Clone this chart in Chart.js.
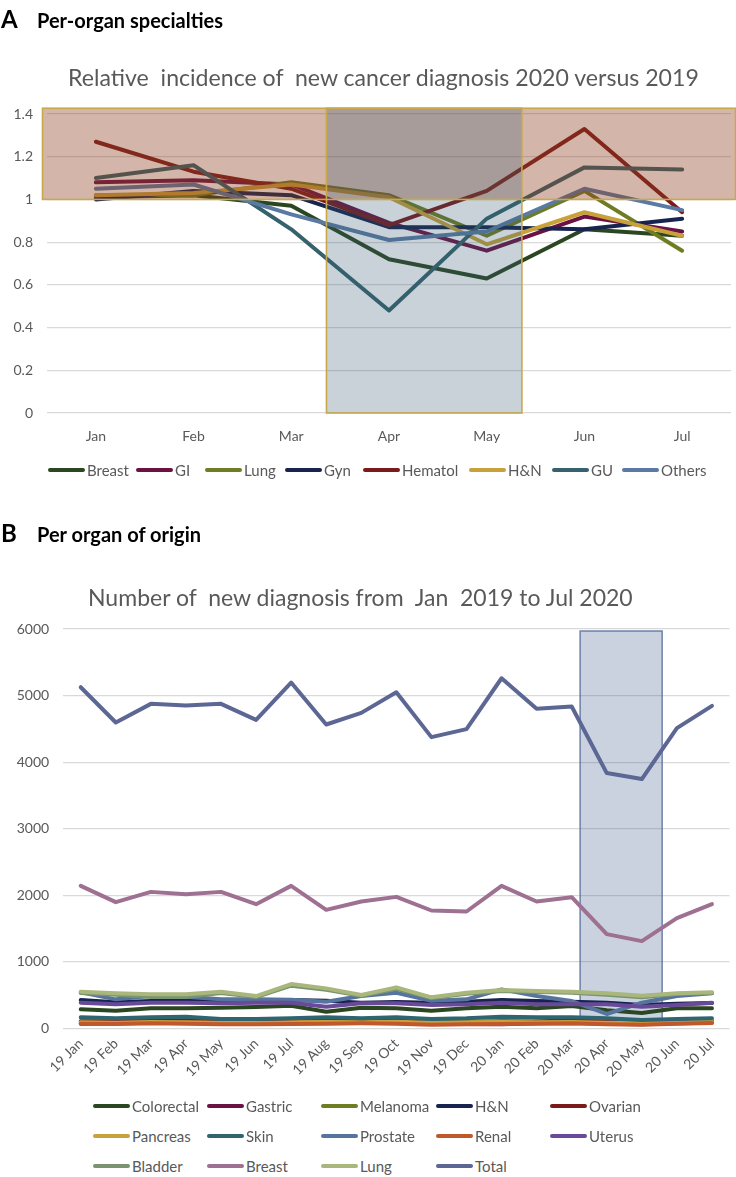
<!DOCTYPE html>
<html><head><meta charset="utf-8">
<script src="https://cdn.jsdelivr.net/npm/chart.js@4.4.0/dist/chart.umd.min.js"></script>
<style>
html,body{margin:0;padding:0;background:#fff;}
body{width:736px;height:1177px;position:relative;overflow:hidden;font-family:Lato,"Open Sans",sans-serif;}
.abs{position:absolute;white-space:pre;z-index:2;line-height:1;}
.hdr{font-weight:700;color:#000;font-size:20px;}
.hdr .let{font-size:24px;display:inline-block;width:36px;}
.ttl{color:#595959;font-size:21px;}
.leg{position:absolute;display:flex;align-items:center;font-size:15px;color:#595959;height:18px;white-space:nowrap;z-index:2;}
.leg i{display:inline-block;width:37px;height:4.5px;border-radius:2.5px;margin-right:2px;}
canvas{position:absolute;left:0;z-index:1;}
</style></head>
<body>
<div class="abs hdr" id="hA" style="left:1px;top:7px;"><span class="let">A</span>Per-organ specialties</div>
<div class="abs ttl" id="tA" style="left:68px;top:66px;">Relative  incidence of  new cancer diagnosis 2020 versus 2019</div>
<canvas id="cA" width="736" height="450" style="top:0"></canvas>
<div id="legA"></div>
<div class="abs hdr" id="hB" style="left:1px;top:521px;"><span class="let">B</span>Per organ of origin</div>
<div class="abs ttl" id="tB" style="left:88px;top:586px;">Number of  new diagnosis from  Jan  2019 to Jul 2020</div>
<canvas id="cB" width="736" height="560" style="top:540px"></canvas>
<div id="legB"></div>
<script>
// ---------- Chart A data ----------
const monthsA = ['Jan','Feb','Mar','Apr','May','Jun','Jul'];
const yTicksA = [0, 0.2, 0.4, 0.6, 0.8, 1, 1.2, 1.4];
const yTickLabelsA = ['0','0.2','0.4','0.6','0.8','1','1.2','1.4'];
const namesA = ['Breast','GI','Lung','Gyn','Hematol','H&N','GU','Others'];
const breastA  = [1.01, 1.02, 0.97, 0.72, 0.63, 0.86, 0.83];
const giA      = [1.08, 1.09, 1.07, 0.89, 0.76, 0.92, 0.85];
const lungA    = [1.02, 1.02, 1.08, 1.02, 0.83, 1.04, 0.76];
const gynA     = [1.00, 1.04, 1.02, 0.87, 0.87, 0.86, 0.91];
const hematolA = [1.27, 1.13, 1.05, 0.88, 1.04, 1.33, 0.94];
const hnA      = [1.02, 1.03, 1.07, 1.01, 0.79, 0.94, 0.83];
const guA      = [1.10, 1.16, 0.86, 0.48, 0.91, 1.15, 1.14];
const othersA  = [1.05, 1.07, 0.93, 0.81, 0.85, 1.05, 0.95];
const bandAbove = [1.0, 1.427];      // value range of the shaded "above 2019" band
const bandLockdownA = [0, 1.427];    // value range of the lockdown window

// ---------- Chart B data ----------
const monthsB = ['19 Jan','19 Feb','19 Mar','19 Apr','19 May','19 Jun','19 Jul','19 Aug','19 Sep','19 Oct','19 Nov','19 Dec','20 Jan','20 Feb','20 Mar','20 Apr','20 May','20 Jun','20 Jul'];
const yTicksB = [0, 1000, 2000, 3000, 4000, 5000, 6000];
const yTickLabelsB = ['0','1000','2000','3000','4000','5000','6000'];
const namesB = ['Colorectal','Gastric','Melanoma','H&N','Ovarian','Pancreas','Skin','Prostate','Renal','Uterus','Bladder','Breast','Lung','Total'];
const colorectalB = [285, 265, 300, 300, 310, 320, 340, 250, 310, 300, 265, 300, 325, 300, 335, 270, 230, 300, 300];
const gastricB    = [70, 75, 80, 85, 70, 75, 80, 80, 85, 90, 70, 65, 60, 75, 80, 70, 60, 75, 85];
const melanomaB   = [110, 105, 115, 120, 100, 95, 100, 105, 100, 115, 95, 100, 110, 105, 100, 95, 80, 95, 105];
const hnB         = [425, 390, 410, 410, 425, 420, 425, 415, 385, 395, 385, 400, 425, 410, 400, 385, 350, 370, 380];
const ovarianB    = [100, 100, 110, 120, 110, 120, 140, 150, 140, 120, 70, 80, 70, 100, 130, 140, 90, 100, 110];
const pancreasB   = [90, 85, 95, 90, 85, 80, 90, 95, 90, 100, 85, 90, 95, 90, 95, 85, 80, 90, 100];
const skinB       = [165, 150, 165, 175, 140, 140, 150, 165, 150, 165, 140, 150, 175, 165, 165, 150, 125, 140, 150];
const prostateB   = [540, 435, 485, 475, 435, 435, 430, 400, 485, 535, 415, 435, 585, 485, 410, 215, 385, 485, 525];
const renalB      = [70, 65, 75, 70, 60, 60, 65, 70, 75, 70, 55, 60, 65, 70, 75, 60, 55, 70, 80];
const uterusB     = [385, 360, 385, 385, 375, 385, 385, 325, 375, 375, 350, 360, 385, 360, 360, 360, 325, 350, 385];
const bladderB    = [530, 505, 470, 470, 530, 470, 640, 580, 490, 595, 455, 520, 560, 545, 535, 505, 465, 515, 530];
const breastB     = [2140, 1895, 2050, 2015, 2050, 1865, 2140, 1780, 1905, 1975, 1770, 1755, 2140, 1905, 1970, 1415, 1310, 1655, 1865];
const lungB       = [550, 525, 510, 510, 550, 485, 665, 600, 500, 615, 465, 535, 575, 560, 550, 525, 490, 525, 540];
const totalB      = [5125, 4595, 4875, 4850, 4875, 4635, 5195, 4565, 4740, 5050, 4375, 4495, 5260, 4800, 4835, 3835, 3745, 4510, 4845];
const bandLockdownB = [110, 5970];

// ---------- styles ----------
const colorsA = ['#2b4721','#6b1245','#6f7c24','#16244f','#7b1a1a','#c8a13a','#35626d','#5a7aa3'];
const colorsB = ['#2b4721','#6b1245','#6f7c24','#16244f','#7b1a1a','#c8a13a','#2f6570','#56749e','#c0582c','#694a99','#7a9472','#9e7092','#a9b67c','#5c6794'];
const valuesA = [breastA, giA, lungA, gynA, hematolA, hnA, guA, othersA];
const valuesB = [colorectalB, gastricB, melanomaB, hnB, ovarianB, pancreasB, skinB, prostateB, renalB, uterusB, bladderB, breastB, lungB, totalB];
const layoutA = { winFrom: 2.36, winTo: 4.36, legendLeft: [48,136,205,285,363,469,552,622], legendTop: 461 };
const layoutB = { winFrom: 14.24, winTo: 16.58, legendCols: [93,207,321,436,550], legendRows: [1097,1127,1157] };

const tickFont = {family:'Lato', size:14};
const tickColor = '#595959';

function makeDatasets(names, vals, cols){
  const n = names.length;
  return names.map((nm,i)=>({label:nm, data:vals[i], borderColor:cols[i], backgroundColor:cols[i],
    borderWidth:4, pointRadius:0, pointHoverRadius:0, tension:0, fill:false, order:n-i,
    borderCapStyle:'round', borderJoinStyle:'round'}));
}

const shadeA = {id:'shadeA', afterDatasetsDraw(chart){
  const {ctx, chartArea:ca, scales:{x,y}} = chart;
  ctx.save();
  const yT = y.getPixelForValue(bandAbove[1]), yB = y.getPixelForValue(bandAbove[0]);
  const xl = ca.left - 4.5, xr = ca.right + 4.5;
  ctx.fillStyle = 'rgba(140,60,30,0.38)';
  ctx.fillRect(xl, yT, xr-xl, yB-yT);
  const wx1 = x.getPixelForValue(layoutA.winFrom), wx2 = x.getPixelForValue(layoutA.winTo);
  const wyT = y.getPixelForValue(bandLockdownA[1]), wyB = y.getPixelForValue(bandLockdownA[0]);
  ctx.fillStyle = 'rgba(50,90,110,0.27)';
  ctx.fillRect(wx1, wyT, wx2-wx1, wyB-wyT);
  ctx.strokeStyle = '#c9a84b'; ctx.lineWidth = 1.6;
  ctx.strokeRect(xl, yT, xr-xl, yB-yT);
  ctx.strokeRect(wx1, wyT, wx2-wx1, wyB-wyT);
  ctx.restore();
}};
const shadeB = {id:'shadeB', beforeDatasetsDraw(chart){
  const {ctx, scales:{x,y}} = chart;
  ctx.save();
  const x1 = x.getPixelForValue(layoutB.winFrom), x2 = x.getPixelForValue(layoutB.winTo);
  const yT = y.getPixelForValue(bandLockdownB[1]), yB = y.getPixelForValue(bandLockdownB[0]);
  ctx.fillStyle = 'rgba(60,90,140,0.27)';
  ctx.fillRect(x1, yT, x2-x1, yB-yT);
  ctx.strokeStyle = 'rgba(80,105,150,0.8)'; ctx.lineWidth = 1.5;
  ctx.strokeRect(x1, yT, x2-x1, yB-yT);
  ctx.restore();
}};

new Chart(document.getElementById('cA'), {
  type:'line',
  data:{labels:monthsA, datasets:makeDatasets(namesA, valuesA, colorsA)},
  options:{
    responsive:false, animation:false, events:[],
    layout:{padding:{top:114, right:5, left:0, bottom:0}},
    plugins:{legend:{display:false}, tooltip:{enabled:false}, title:{display:false}},
    scales:{
      x:{offset:true, grid:{display:false, drawTicks:false, offset:true}, border:{display:false},
         ticks:{color:tickColor, font:tickFont, padding:15, maxRotation:0},
         afterFit:s=>{s.height=37;}},
      y:{min:0, max:1.4,
         afterBuildTicks:s=>{s.ticks = yTicksA.map(v=>({value:v}));},
         grid:{color:'#d9d9d9', lineWidth:1.2, drawTicks:false}, border:{display:false},
         ticks:{color:tickColor, font:tickFont, padding:14, callback:(v,i)=>yTickLabelsA[i]},
         afterFit:s=>{s.width=47;}}
    }
  },
  plugins:[shadeA]
});

new Chart(document.getElementById('cB'), {
  type:'line',
  data:{labels:monthsB, datasets:makeDatasets(namesB, valuesB, colorsB)},
  options:{
    responsive:false, animation:false, events:[],
    layout:{padding:{top:89, right:6.5, left:0, bottom:0}},
    plugins:{legend:{display:false}, tooltip:{enabled:false}, title:{display:false}},
    scales:{
      x:{offset:true, grid:{display:false, drawTicks:false, offset:true}, border:{display:false},
         ticks:{color:tickColor, font:tickFont, padding:7, minRotation:45, maxRotation:45, autoSkip:false},
         afterFit:s=>{s.height=71.7;}},
      y:{min:0, max:6000,
         afterBuildTicks:s=>{s.ticks = yTicksB.map(v=>({value:v}));},
         grid:{color:'#d9d9d9', lineWidth:1.2, drawTicks:false}, border:{display:false},
         ticks:{color:tickColor, font:tickFont, padding:14, callback:(v,i)=>yTickLabelsB[i]},
         afterFit:s=>{s.width=63.2;}}
    }
  },
  plugins:[shadeB]
});

// ---------- legends (HTML) ----------
function legendItem(name, color, left, top){
  const d = document.createElement('div');
  d.className = 'leg';
  d.style.left = left+'px'; d.style.top = top+'px';
  const i = document.createElement('i'); i.style.background = color;
  d.appendChild(i);
  d.appendChild(document.createTextNode(name));
  document.body.appendChild(d);
}
namesA.forEach((n,i)=>legendItem(n, colorsA[i], layoutA.legendLeft[i], layoutA.legendTop));
namesB.forEach((n,i)=>legendItem(n, colorsB[i], layoutB.legendCols[i%5], layoutB.legendRows[Math.floor(i/5)]));

// fit titles to the reference widths
function fitWidth(id, target){
  const el = document.getElementById(id);
  const w = el.getBoundingClientRect().width;
  const fs = parseFloat(getComputedStyle(el).fontSize);
  el.style.fontSize = (fs*target/w).toFixed(2)+'px';
}
fitWidth('tA', 631);
fitWidth('tB', 545);
</script>
</body></html>
